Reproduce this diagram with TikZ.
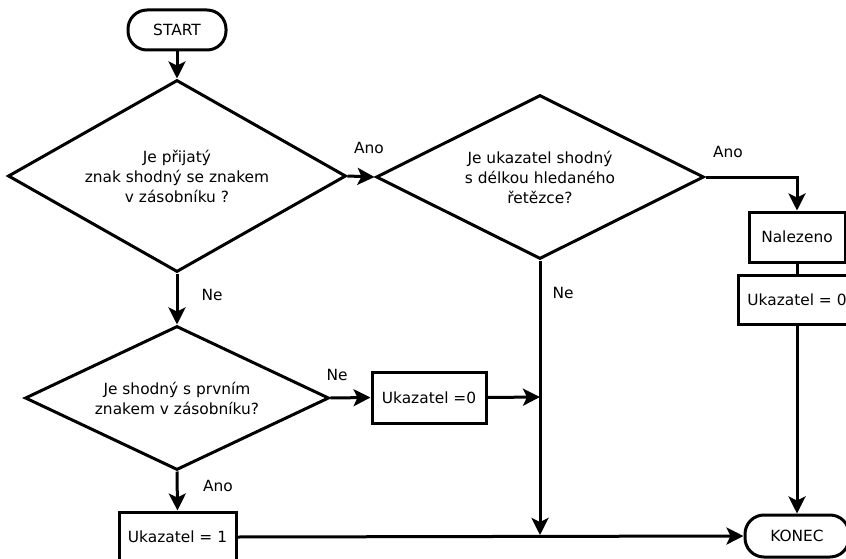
\documentclass[tikz,border=0pt]{standalone}
\usepackage{fontspec}
\setmainfont{DejaVu Sans}
\usetikzlibrary{shapes.geometric,arrows.meta,positioning}

\begin{document}
\begin{tikzpicture}[
  x=1pt, y=-1pt,
  every node/.style={font=\fontsize{15.4}{20}\selectfont},
  term/.style={draw, line width=3pt, rounded corners=19pt, inner sep=0pt, align=center},
  decision/.style={draw, diamond, line width=3pt, inner sep=0pt, align=center},
  box/.style={draw, rectangle, line width=3pt, inner sep=0pt, align=center},
  lbl/.style={inner sep=0pt},
  arrow/.style={-{Stealth[length=17pt, width=17pt, inset=4pt]}, line width=3pt},
  link/.style={line width=3pt},
]
\useasboundingbox (0,0) rectangle (846,559);

% Terminals
\node[term, minimum width=98pt, minimum height=40pt] (start) at (177,30) {START};
\node[term, minimum width=104pt, minimum height=42pt] (konec) at (797,536) {KONEC};

% Decisions
\node[decision, minimum width=338pt, minimum height=192pt, shape aspect=1.76] (prijaty) at (177,176)
  {Je přijatý\\znak shodný se znakem\\v zásobníku ?};
\node[decision, minimum width=328pt, minimum height=164pt, shape aspect=2] (delka) at (540,177)
  {Je ukazatel shodný\\s délkou hledaného\\řetězce?};
\node[decision, minimum width=304pt, minimum height=144pt, shape aspect=2.1] (prvni) at (177,398)
  {Je shodný s prvním\\znakem v zásobníku?};

% Boxes
\node[box, minimum width=96pt, minimum height=50pt] (nalezeno) at (797,237) {Nalezeno};
\node[box, minimum width=117pt, minimum height=49pt] (ukazA) at (797,300) {Ukazatel = 0};
\node[box, minimum width=114pt, minimum height=51pt] (ukazB) at (429,397.5) {Ukazatel =0};
\node[box, minimum width=117pt, minimum height=50pt] (ukazC) at (177.5,537) {Ukazatel = 1};

% Junctions on the vertical line
\coordinate (j1) at (540,397);
\coordinate (j2) at (540,535);

% Connectors
\draw[arrow] (start) -- (prijaty);
\draw[arrow] (prijaty.east) -- (delka.west);
\draw[arrow] (delka.east) -| (nalezeno.north);
\draw[link] (nalezeno) -- (ukazA);
\draw[arrow] (ukazA) -- (konec);
\draw[arrow] (delka.south) -- (j2);
\draw[arrow] (prijaty.south) -- (prvni.north);
\draw[arrow] (prvni.east) -- (ukazB.west);
\draw[arrow] (ukazB.east) -- (j1);
\draw[arrow] (prvni.south) -- (ukazC.north);
\draw[arrow] (ukazC.east) -- (konec.west);

% Labels
\node[lbl] (anoA) at (369,148) {Ano};
\node[lbl] (anoB) at (728,152) {Ano};
\node[lbl] (neA) at (212,295) {Ne};
\node[lbl] (neB) at (563,293) {Ne};
\node[lbl] (neC) at (337,375) {Ne};
\node[lbl] (anoC) at (218,486) {Ano};

\end{tikzpicture}
\end{document}
